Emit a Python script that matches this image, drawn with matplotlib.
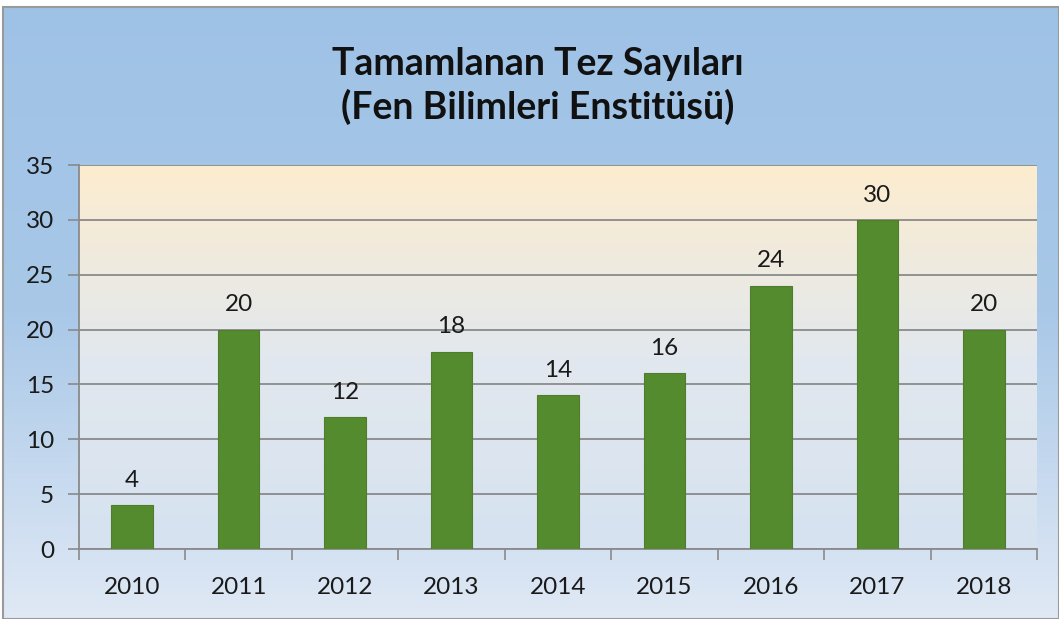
import matplotlib.pyplot as plt
import numpy as np
from matplotlib.colors import LinearSegmentedColormap

years = ["2010", "2011", "2012", "2013", "2014", "2015", "2016", "2017", "2018"]
counts = [4, 20, 12, 18, 14, 16, 24, 30, 20]
title = "Tamamlanan Tez Sayıları\n(Fen Bilimleri Enstitüsü)"

plt.rcParams['font.family'] = ['Lato', 'DejaVu Sans']

fig = plt.figure(figsize=(10.59, 6.19), dpi=100)

# arka plan gradyanı
bg = fig.add_axes([0.003, 0, 0.997, 0.989], zorder=-10)
bg_cmap = LinearSegmentedColormap.from_list("bg", ["#e0e9f5", "#a9c8e8", "#9ec2e6"])
bg.imshow(np.linspace(0, 1, 256).reshape(-1, 1), aspect="auto", cmap=bg_cmap,
          origin="lower", extent=[0, 1, 0, 1])
bg.set_axis_off()
fig.patches.append(plt.Rectangle((0.003, 0.0), 0.997, 0.989, transform=fig.transFigure,
                                 fill=False, edgecolor="#9a9a9a", linewidth=1.5, zorder=-5))

ax = fig.add_axes([79 / 1059, 1 - 549 / 619, (1037 - 79) / 1059, (549 - 165) / 619])
x = np.arange(len(years))
ax.set_xlim(-0.5, len(years) - 0.5)
ax.set_ylim(0, 35)

plot_cmap = LinearSegmentedColormap.from_list("pa", ["#d6e2f1", "#e2e8ee", "#fdedcf"])
ax.imshow(np.linspace(0, 1, 256).reshape(-1, 1), aspect="auto", cmap=plot_cmap,
          origin="lower", extent=[-0.5, len(years) - 0.5, 0, 35], zorder=0)

ax.set_yticks(range(0, 36, 5))
ax.grid(True, axis="y", color="#8a8a8a", linewidth=1.3, zorder=1)
ax.set_axisbelow(True)

bars = ax.bar(x, counts, width=0.39, color="#558b2f", edgecolor="#4f7d2c", linewidth=0.8, zorder=3)
for xi, v in zip(x, counts):
    ax.text(xi, v + 1.3, str(v), ha="center", va="bottom", fontsize=17.5, color="#1a1a1a", zorder=4)

ax.set_xticks(x)
ax.set_xticklabels(years)
ax.set_xticks(np.arange(-0.5, len(years)), minor=True)
ax.tick_params(axis="x", which="major", length=0, pad=20, labelsize=17.5, labelcolor="#1a1a1a")
ax.tick_params(axis="x", which="minor", length=8, width=1.2, color="#8a8a8a", direction="out")
ax.tick_params(axis="y", length=8, width=1.2, color="#8a8a8a", labelsize=17.5, labelcolor="#1a1a1a", pad=10)

for s in ["top", "right"]:
    ax.spines[s].set_visible(False)
for s in ["left", "bottom"]:
    ax.spines[s].set_color("#8a8a8a")
    ax.spines[s].set_linewidth(1.3)

fig.text(0.508, 1 - 86 / 619, title, ha="center", va="center", fontsize=27,
         fontweight="bold", color="#111111", linespacing=1.28)

fig.savefig("out.png", dpi=100)
